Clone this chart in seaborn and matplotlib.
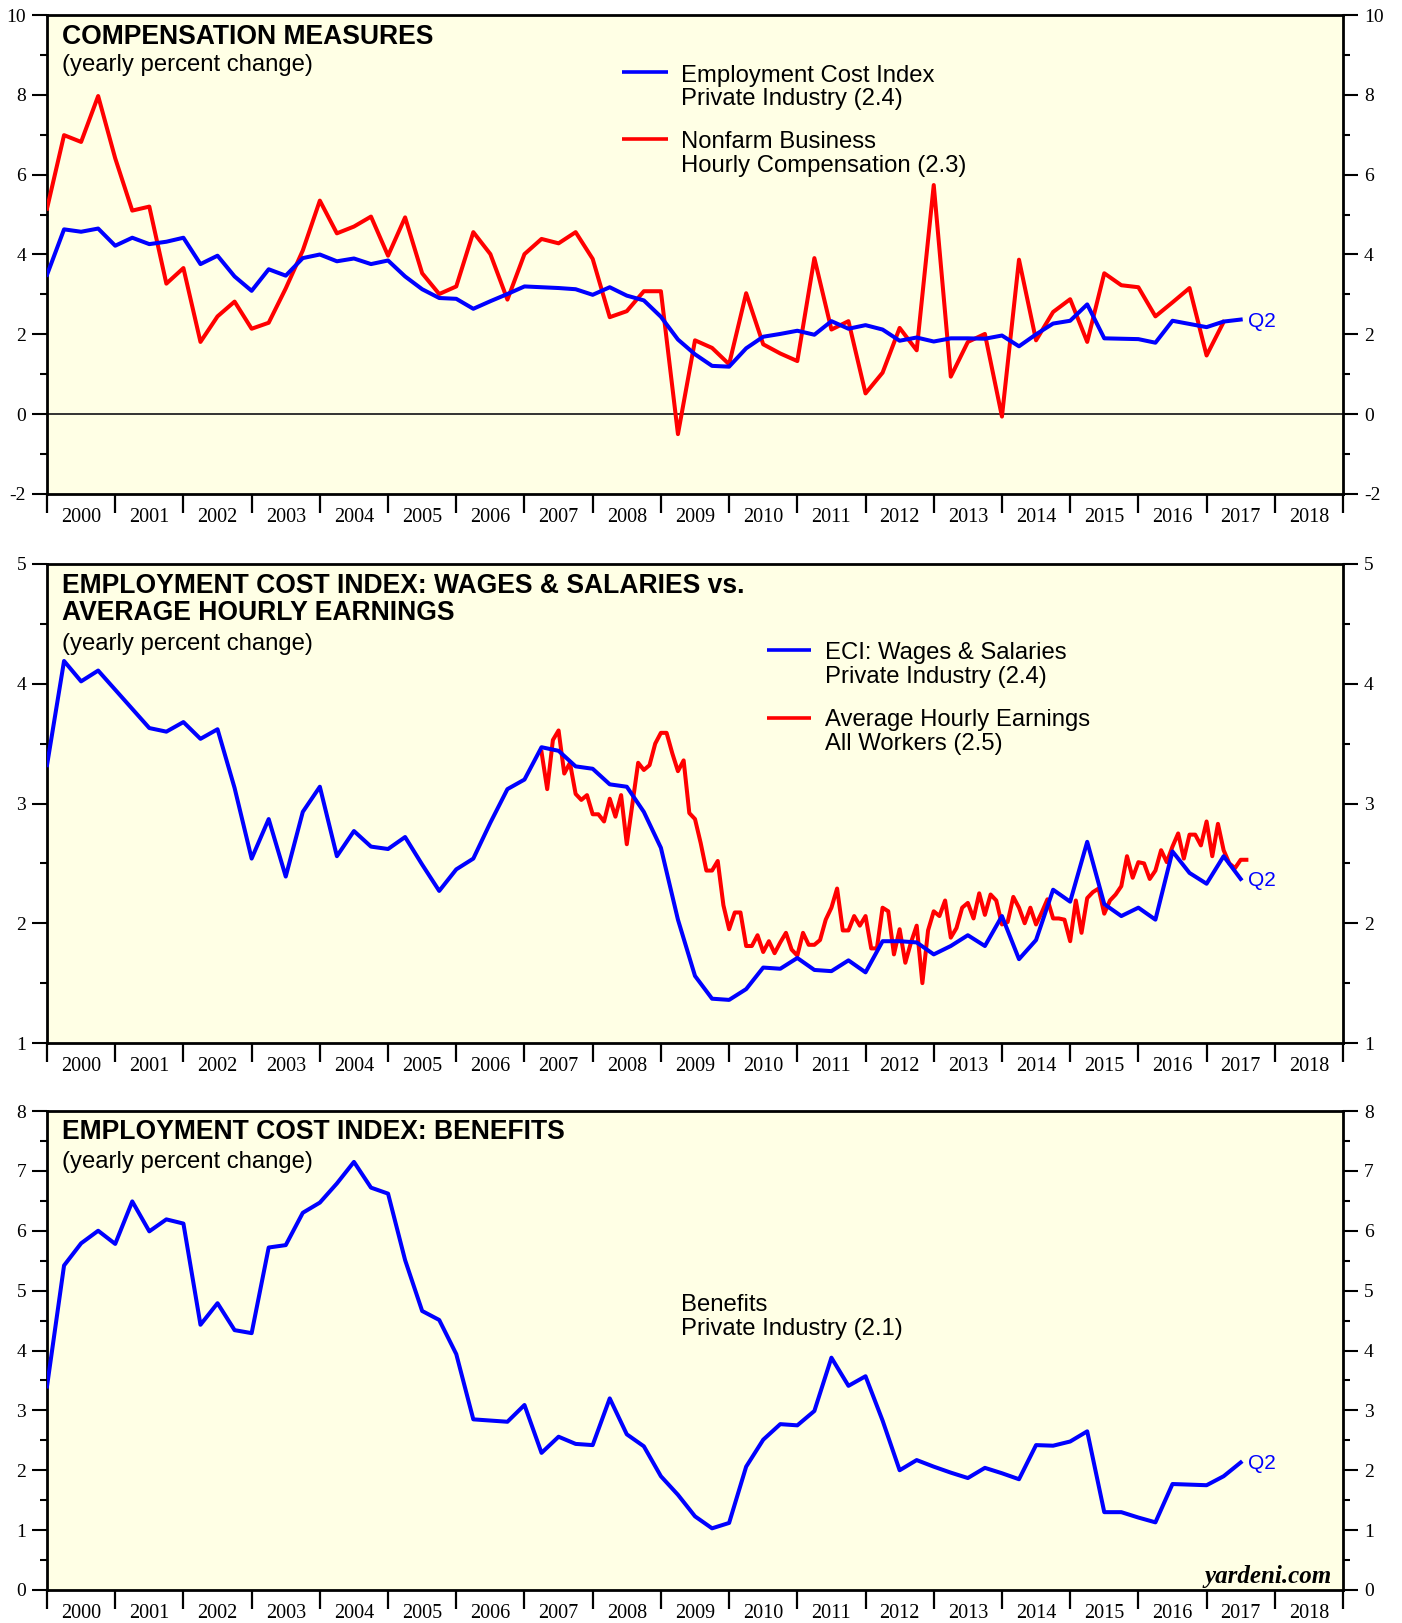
import numpy as np
import pandas as pd
import matplotlib
matplotlib.use("Agg")
import matplotlib.pyplot as plt
from matplotlib.lines import Line2D
from matplotlib.ticker import MultipleLocator, FixedLocator, FixedFormatter, NullFormatter
import seaborn as sns

plt.rcParams["axes.unicode_minus"] = False

# ---------------- data ----------------
year_ticks = list(range(2000, 2020))
year_labels = [str(y) for y in range(2000, 2019)]

quarters = pd.period_range("1999Q4", periods=71, freq="Q")      # 1999Q4 .. 2017Q2
months_ahe = pd.period_range("2007-03", periods=125, freq="M")  # 2007-03 .. 2017-07

# Panel 1: compensation measures (yearly % change)
eci_comp = [3.49, 4.63, 4.57, 4.65, 4.22, 4.42, 4.26, 4.32, 4.42, 3.76,
            3.97, 3.45, 3.09, 3.63, 3.47, 3.91, 4.00, 3.83, 3.90, 3.76,
            3.85, 3.45, 3.13, 2.91, 2.89, 2.64, 2.83, 3.01, 3.20, 3.18,
            3.16, 3.13, 2.99, 3.18, 2.97, 2.85, 2.44, 1.87, 1.50, 1.21,
            1.19, 1.65, 1.94, 2.01, 2.09, 1.99, 2.33, 2.14, 2.23, 2.12,
            1.84, 1.92, 1.82, 1.90, 1.90, 1.89, 1.97, 1.70, 2.00, 2.27,
            2.34, 2.75, 1.90, 1.89, 1.88, 1.79, 2.34, 2.26, 2.18, 2.32,
            2.37]
nfb_comp = [5.15, 6.99, 6.82, 7.97, 6.41, 5.10, 5.20, 3.27, 3.66, 1.81,
            2.45, 2.82, 2.14, 2.29, 3.15, 4.10, 5.35, 4.53, 4.70, 4.95,
            3.97, 4.93, 3.53, 3.01, 3.20, 4.56, 4.01, 2.87, 4.01, 4.39,
            4.28, 4.56, 3.89, 2.43, 2.58, 3.08, 3.08, -0.50, 1.85, 1.66,
            1.25, 3.03, 1.75, 1.52, 1.33, 3.91, 2.12, 2.33, 0.52, 1.04,
            2.16, 1.60, 5.74, 0.94, 1.81, 2.01, -0.06, 3.87, 1.85, 2.56,
            2.88, 1.81, 3.53, 3.23, 3.18, 2.45, 2.80, 3.16, 1.47, 2.31]

# Panel 2: ECI wages & salaries vs average hourly earnings
eci_wages = [3.32, 4.19, 4.02, 4.11, 3.95, 3.79, 3.63, 3.60, 3.68, 3.54,
             3.62, 3.13, 2.54, 2.87, 2.39, 2.93, 3.14, 2.56, 2.77, 2.64,
             2.62, 2.72, 2.49, 2.27, 2.45, 2.54, 2.84, 3.12, 3.20, 3.47,
             3.44, 3.31, 3.29, 3.16, 3.14, 2.93, 2.63, 2.03, 1.56, 1.37,
             1.36, 1.45, 1.63, 1.62, 1.71, 1.61, 1.60, 1.69, 1.59, 1.85,
             1.85, 1.84, 1.74, 1.81, 1.90, 1.81, 2.06, 1.70, 1.86, 2.28,
             2.18, 2.68, 2.16, 2.06, 2.13, 2.03, 2.60, 2.42, 2.33, 2.56,
             2.37]
ahe = [3.43, 3.12, 3.53, 3.61, 3.25, 3.34, 3.08, 3.03, 3.07, 2.91,
       2.91, 2.85, 3.04, 2.89, 3.07, 2.66, 3.00, 3.34, 3.28, 3.32,
       3.50, 3.59, 3.59, 3.42, 3.27, 3.36, 2.92, 2.87, 2.67, 2.44,
       2.44, 2.52, 2.15, 1.95, 2.09, 2.09, 1.81, 1.81, 1.90, 1.76,
       1.85, 1.75, 1.84, 1.92, 1.78, 1.73, 1.92, 1.82, 1.82, 1.86,
       2.03, 2.13, 2.29, 1.94, 1.94, 2.06, 1.98, 2.06, 1.79, 1.79,
       2.13, 2.10, 1.74, 1.95, 1.67, 1.84, 1.98, 1.50, 1.94, 2.10,
       2.06, 2.19, 1.88, 1.96, 2.13, 2.17, 2.04, 2.25, 2.07, 2.24,
       2.19, 1.99, 2.01, 2.22, 2.13, 2.00, 2.13, 1.99, 2.09, 2.20,
       2.04, 2.04, 2.03, 1.85, 2.19, 1.92, 2.21, 2.26, 2.29, 2.08,
       2.19, 2.24, 2.31, 2.56, 2.38, 2.51, 2.50, 2.37, 2.44, 2.61,
       2.51, 2.64, 2.75, 2.54, 2.74, 2.74, 2.65, 2.85, 2.56, 2.83,
       2.61, 2.50, 2.46, 2.53, 2.53]

# Panel 3: ECI benefits
eci_benefits = [3.40, 5.42, 5.79, 6.00, 5.78, 6.49, 5.99, 6.19, 6.12, 4.43,
                4.79, 4.34, 4.29, 5.72, 5.76, 6.30, 6.47, 6.79, 7.15, 6.72,
                6.62, 5.51, 4.66, 4.51, 3.94, 2.85, 2.83, 2.81, 3.09, 2.29,
                2.56, 2.44, 2.42, 3.20, 2.60, 2.40, 1.90, 1.59, 1.23, 1.03,
                1.12, 2.06, 2.51, 2.77, 2.75, 2.99, 3.88, 3.41, 3.57, 2.83,
                2.00, 2.17, 2.06, 1.96, 1.87, 2.04, 1.95, 1.85, 2.42, 2.41,
                2.48, 2.65, 1.30, 1.30, 1.21, 1.13, 1.77, 1.76, 1.75, 1.90,
                2.13]

titles = [["COMPENSATION MEASURES"],
          ["EMPLOYMENT COST INDEX: WAGES & SALARIES vs.", "AVERAGE HOURLY EARNINGS"],
          ["EMPLOYMENT COST INDEX: BENEFITS"]]
subtitle = "(yearly percent change)"

# --------------- positions ---------------
xq = quarters.year + quarters.quarter / 4.0
xm = months_ahe.year + months_ahe.month / 12.0

BLUE = "#0000FF"
RED = "#FF0000"
BG = "#FFFFE5"
SANS = "Liberation Sans"
SERIF = "Liberation Serif"

W, H = 1402, 1623
fig = plt.figure(figsize=(W / 100, H / 100), dpi=100, facecolor="white")

def ptext(x, y, s, **kw):
    return fig.text(x / W, 1 - y / H, s, **kw)

def pline(x0, x1, y, color):
    fig.add_artist(Line2D([x0 / W, x1 / W], [1 - y / H, 1 - y / H],
                          transform=fig.transFigure, color=color, lw=2.6,
                          solid_capstyle="butt"))

left = 47 / W
width = (1343 - 47) / W
tops = [15, 564, 1111]
ph = 479
axes = []
for t in tops:
    ax = fig.add_axes([left, 1 - (t + ph) / H, width, ph / H])
    axes.append(ax)

ylims = [(-2, 10), (1, 5), (0, 8)]
ymaj = [2, 1, 1]
ymin = [1, 0.5, 0.5]

for ax, yl, mj, mn in zip(axes, ylims, ymaj, ymin):
    ax.set_facecolor(BG)
    ax.set_xlim(2000, 2019)
    ax.set_ylim(*yl)
    for s in ax.spines.values():
        s.set_linewidth(2.0)
        s.set_color("black")
    ax.yaxis.set_major_locator(MultipleLocator(mj))
    ax.yaxis.set_minor_locator(MultipleLocator(mn))
    ax.tick_params(axis="y", which="both", left=True, right=True,
                   labelleft=True, labelright=True, direction="out",
                   width=1.5, colors="black")
    ax.tick_params(axis="y", which="major", length=10.8, pad=4.3,
                   labelsize=14)
    ax.tick_params(axis="y", which="minor", length=5)
    ax.xaxis.set_major_locator(FixedLocator(year_ticks))
    ax.xaxis.set_major_formatter(NullFormatter())
    ax.xaxis.set_minor_locator(FixedLocator([y + 0.5 for y in range(2000, 2019)]))
    ax.xaxis.set_minor_formatter(FixedFormatter(year_labels))
    ax.tick_params(axis="x", which="major", length=13.7, width=1.6,
                   direction="out", bottom=True, top=False)
    ax.tick_params(axis="x", which="minor", length=0, pad=10,
                   labelsize=14.5, bottom=True, top=False)

# Panel 1
ax = axes[0]
ax.axhline(0, color="#333333", lw=1.4, zorder=1)
sns.lineplot(x=np.array(xq[:len(nfb_comp)]), y=nfb_comp, ax=ax, color=RED,
             linewidth=2.9, estimator=None, sort=False, legend=False, zorder=3)
sns.lineplot(x=np.array(xq), y=eci_comp, ax=ax, color=BLUE,
             linewidth=2.9, estimator=None, sort=False, legend=False, zorder=4)

# Panel 2
ax = axes[1]
sns.lineplot(x=np.array(xm), y=ahe, ax=ax, color=RED,
             linewidth=2.9, estimator=None, sort=False, legend=False, zorder=3)
sns.lineplot(x=np.array(xq), y=eci_wages, ax=ax, color=BLUE,
             linewidth=2.9, estimator=None, sort=False, legend=False, zorder=4)

# Panel 3
ax = axes[2]
sns.lineplot(x=np.array(xq), y=eci_benefits, ax=ax, color=BLUE,
             linewidth=2.9, estimator=None, sort=False, legend=False, zorder=4)

for ax, ser in zip(axes, [eci_comp, eci_wages, eci_benefits]):
    ax.set_xlabel("")
    ax.set_ylabel("")
    ax.annotate("Q2", xy=(xq[len(ser) - 1], ser[-1]), xytext=(5.4, -5),
                textcoords="offset points", color=BLUE, fontsize=15,
                family=SANS, va="baseline", ha="left")
    for lab in ax.get_yticklabels() + ax.get_xticklabels(minor=True):
        lab.set_family(SERIF)

# Titles
TS = 19.1
SS = 17.2
ptext(62, 44, titles[0][0], fontsize=TS, fontweight="bold", family=SANS, va="baseline")
ptext(62, 70.7, subtitle, fontsize=SS, family=SANS, va="baseline")
ptext(62, 592.7, titles[1][0], fontsize=TS, fontweight="bold", family=SANS, va="baseline")
ptext(62, 620, titles[1][1], fontsize=TS, fontweight="bold", family=SANS, va="baseline")
ptext(62, 650, subtitle, fontsize=SS, family=SANS, va="baseline")
ptext(62, 1139.3, titles[2][0], fontsize=TS, fontweight="bold", family=SANS, va="baseline")
ptext(62, 1168.3, subtitle, fontsize=SS, family=SANS, va="baseline")

# Legends
pline(621.7, 668.3, 71.7, BLUE)
pline(621.7, 668.3, 139.3, RED)
ptext(681, 81.7, "Employment Cost Index", fontsize=SS, family=SANS, va="baseline")
ptext(681, 105, "Private Industry (2.4)", fontsize=SS, family=SANS, va="baseline")
ptext(681, 147.7, "Nonfarm Business", fontsize=SS, family=SANS, va="baseline")
ptext(681, 171.7, "Hourly Compensation (2.3)", fontsize=SS, family=SANS, va="baseline")

pline(766.5, 810.7, 650, BLUE)
pline(766.5, 810.7, 717.7, RED)
ptext(825, 659, "ECI: Wages & Salaries", fontsize=SS, family=SANS, va="baseline")
ptext(825, 682.7, "Private Industry (2.4)", fontsize=SS, family=SANS, va="baseline")
ptext(825, 725.7, "Average Hourly Earnings", fontsize=SS, family=SANS, va="baseline")
ptext(825, 750, "All Workers (2.5)", fontsize=SS, family=SANS, va="baseline")

ptext(681, 1310.7, "Benefits", fontsize=SS, family=SANS, va="baseline")
ptext(681, 1335, "Private Industry (2.1)", fontsize=SS, family=SANS, va="baseline")

ptext(1331.7, 1582.7, "yardeni.com", fontsize=18, family=SERIF, fontweight="bold",
      style="italic", va="baseline", ha="right")

fig.savefig("out.png", dpi=100, facecolor="white")
